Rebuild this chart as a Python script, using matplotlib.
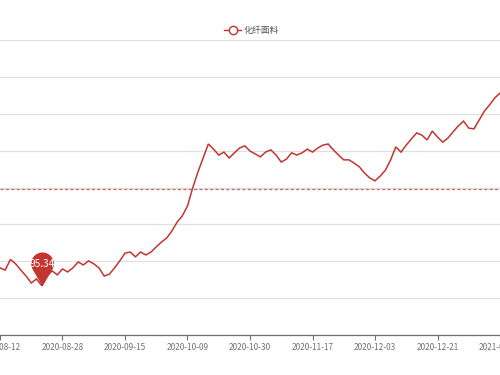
import numpy as np
import pandas as pd
import matplotlib
matplotlib.use("Agg")
import matplotlib.pyplot as plt
from matplotlib.path import Path
from matplotlib.lines import Line2D

plt.rcParams['font.family'] = ['Noto Sans CJK SC', 'DejaVu Sans']

series_name = "化纤面料"

# trading-day categories
holidays = ['2020-10-01', '2020-10-02', '2020-10-05', '2020-10-06', '2020-10-07',
            '2020-10-08', '2020-10-19', '2020-10-20', '2020-10-21', '2021-01-01']

values = [95.90, 95.82, 95.76, 96.05, 95.93, 95.76, 95.60, 95.41, 95.52, 95.34,
          95.60, 95.74, 95.63, 95.79, 95.71, 95.82, 95.98, 95.90, 96.01, 95.93,
          95.82, 95.60, 95.65, 95.82, 96.01, 96.22, 96.25, 96.12, 96.25, 96.17,
          96.25, 96.39, 96.52, 96.63, 96.82, 97.06, 97.23, 97.50, 97.99, 98.42,
          98.80, 99.18, 99.04, 98.88, 98.96, 98.80, 98.94, 99.07, 99.13, 98.99,
          98.91, 98.83, 98.96, 99.02, 98.88, 98.69, 98.77, 98.94, 98.88, 98.94,
          99.04, 98.96, 99.07, 99.15, 99.18, 99.02, 98.88, 98.75, 98.75, 98.66,
          98.56, 98.39, 98.26, 98.18, 98.31, 98.47, 98.75, 99.10, 98.96, 99.15,
          99.32, 99.48, 99.42, 99.29, 99.53, 99.37, 99.23, 99.34, 99.51, 99.67,
          99.80, 99.61, 99.59, 99.83, 100.07, 100.24, 100.43, 100.56]

avg_value = 97.96
y_ticks = [94, 95, 96, 97, 98, 99, 100, 101, 102]

all_days = pd.bdate_range('2020-08-11', '2021-02-28')
all_days = [d for d in all_days if d.strftime('%Y-%m-%d') not in holidays]
dates = [d.strftime('%Y-%m-%d') for d in all_days[:len(values)]]

color = '#c23531'
W, H = 500, 375
fig = plt.figure(figsize=(W / 100, H / 100), dpi=100)
ax = fig.add_axes([0, (H - 335) / H, 1, 295 / H])

x = np.arange(len(values))
ax.plot(x, values, color=color, lw=1.1, zorder=3, solid_joinstyle='miter')

# average mark line
ax.axhline(avg_value, color=color, lw=0.9, ls=(0, (2.5, 1.8)), alpha=0.75, zorder=2)

# min mark point (pin)
t = np.linspace(np.deg2rad(-30), np.deg2rad(210), 60)
verts = [(0, 0)] + [(np.cos(a), 2 + np.sin(a)) for a in t] + [(0, 0)]
pin = Path(verts, closed=True)
imin = int(np.argmin(values))
ax.plot(x[imin], values[imin], marker=pin, markersize=49, color=color,
        markeredgewidth=0, zorder=5, clip_on=False)
ax.annotate(f"{values[imin]:.2f}", (x[imin], values[imin]), xytext=(0, 15.5),
            textcoords='offset points', ha='center', va='center',
            color='white', fontsize=7.2, zorder=6)

# axes
px_per_cat = 63.2 / 12
x_left = 1
ax.set_xlim(x_left, x_left + W / px_per_cat)
ax.set_ylim(94, 102)
ax.set_yticks(y_ticks)
ax.tick_params(axis='y', left=False, labelleft=False)
ax.grid(axis='y', color='#e0e0e0', lw=0.9)
ax.set_axisbelow(True)
for s in ['left', 'right', 'top']:
    ax.spines[s].set_visible(False)
ax.spines['bottom'].set_color('#6e7079')
ax.spines['bottom'].set_linewidth(0.9)

tick_idx = list(range(1, len(dates), 12))
ax.set_xticks(tick_idx)
ax.set_xticklabels([dates[i] for i in tick_idx])
ax.tick_params(axis='x', length=3.5, width=0.8, color='#6e7079', pad=2,
               labelsize=5.9, labelcolor='#6e7079')

# legend
ly = 1 - 30 / H
fig.add_artist(Line2D([224 / W, 241 / W], [ly, ly], transform=fig.transFigure,
                      color=color, lw=1.0))
fig.add_artist(Line2D([232.5 / W], [ly], transform=fig.transFigure, marker='o',
                      markersize=6, markerfacecolor='white', markeredgecolor=color,
                      markeredgewidth=1.0, lw=0))
fig.text(244 / W, ly, series_name, ha='left', va='center', fontsize=6.4, color='#555555')

fig.savefig('out.png', dpi=100)
